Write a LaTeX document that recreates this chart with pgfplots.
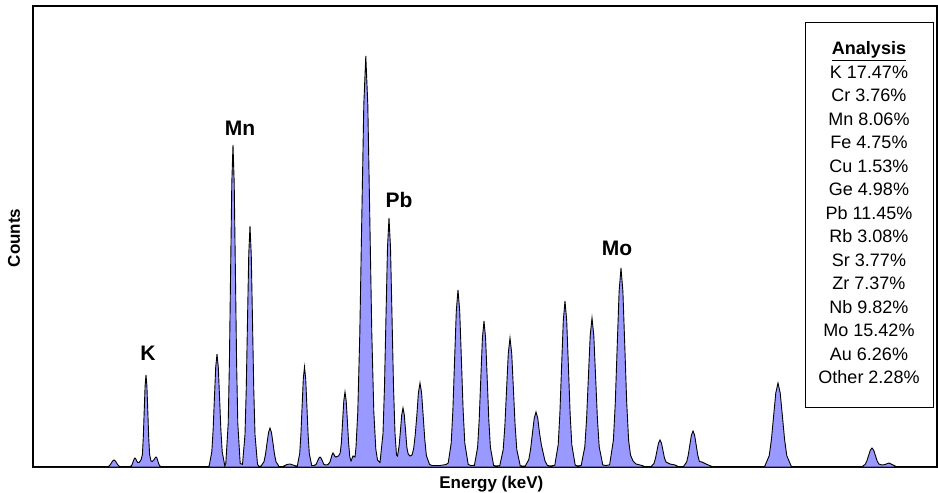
\documentclass[border=0pt]{standalone}
\usepackage{fontspec}
\setmainfont{Liberation Sans}
\usepackage{pgfplots}
\pgfplotsset{compat=1.18}
\usepackage{pgfplotstable}
\definecolor{peakfill}{RGB}{153,153,255}

% spectrum (x in channels, y in counts)
\pgfplotstableread{
x y
33 0
106 0
109 0.9
110.25 2.3
111.5 4.2
112.75 6.2
114 7
115.25 6.2
116.5 4.2
117.75 2.3
119 0.9
121.5 0
129 0
131.4 1.2
132.3 2.9
133.2 5.5
134.1 7.9
135 9
135.9 7.9
136.8 5.8
137.8 4.5
139 4.5
141 7
142.4 12.4
143.3 29.9
144.2 55.8
145.1 81.1
146 92
146.9 81.1
147.8 55.8
148.7 29.9
149.6 12.4
151 6
152.3 5.5
153.3 6.5
154.2 7.5
155.1 9
156 10
156.9 9
157.8 6.1
158.7 3.3
159.6 1.4
161.5 0
207 0
209.2 1.2
211.8 15.3
213.1 36.7
214.4 68.6
215.7 99.7
217 113
218.3 99.7
219.6 68.6
220.9 36.7
222.2 15.3
224.8 1.2
225.8 3.5
228.2 43.5
229.4 104.7
230.6 195.5
231.8 284.0
233 322
234.2 284.0
235.4 195.5
236.6 104.7
237.8 43.5
240.2 3.5
242.5 2.7
245 32.5
246.25 78.3
247.5 146.3
248.75 212.6
250 241
251.25 212.6
252.5 146.3
253.75 78.3
255 32.5
257.5 2.7
259 0.5
261 1
264 5.3
265.5 12.7
267 23.7
268.5 34.4
270 39
271.5 34.4
273 23.7
274.5 12.7
276 5.3
279 0.5
283 0.5
287 2.5
290 3
293 2
296 1
297.3 1.1
299.7 13.5
300.9 32.5
302.1 60.7
303.3 88.2
304.5 100
305.7 88.2
306.9 60.7
308.1 32.5
309.3 13.5
311.7 1.5
314 1.5
316 2.5
317 4.5
318 7
319 9
320 10
321 9
322 7
323 4.5
324 2.5
326 2
328 2.5
330 5
331 8.5
332 12
333 14
334 12.5
335 10.5
336 10
337 10.5
338.5 11
340.2 14
341.4 24.4
342.6 45.5
343.8 66.2
345 75
346.2 66.2
347.4 45.5
348.6 24.4
349.8 10.1
351 6
353 11
355 10
356 20
357.8 55.5
359.8 133.6
361.8 249.5
363.8 362.5
365.8 411
367.8 362.5
369.8 249.5
371.8 133.6
373.8 55.5
375.8 18
377.5 7
380 4.5
383 33.6
384.5 80.9
386 151.1
387.5 219.6
389 249
390.5 219.6
392 151.1
393.5 80.9
395 33.6
396.5 12
397.5 11
399.1 21
400.4 35.8
401.7 52
403 59
404.3 52
405.6 35.8
406.9 19.2
408.2 13
410 11
412 12
413.6 18
415.2 32
416.8 51
418.4 74.1
420 84
421.6 74.1
423.2 51
424.8 27.3
426.4 11.3
429.6 2.5
432 1.5
440 1.5
446 2.5
448.2 4
451.2 23.9
452.9 57.5
454.6 107.4
456.3 156.1
458 177
459.7 156.1
461.4 107.4
463.1 57.5
464.8 23.9
468.2 2.5
471 1.5
474.4 1.6
477.6 19.7
479.2 47.5
480.8 88.6
482.4 128.8
484 146
485.6 128.8
487.2 88.6
488.8 47.5
490.4 19.7
493.6 1.6
496 1
499.8 1.4
503.2 17.4
504.9 41.9
506.6 78.3
508.3 113.8
510 129
511.7 113.8
513.4 78.3
515.1 41.9
516.8 17.4
520.2 1.4
522 1
525.2 1
528.8 7.4
530.6 17.9
532.4 33.4
534.2 48.5
536 55
537.8 48.5
539.6 33.4
541.4 22
543.2 14
545 6
547.5 1.5
551 1
554.8 1.8
558.2 22.4
559.9 54
561.6 100.8
563.3 146.4
565 166
566.7 146.4
568.4 100.8
570.1 54
571.8 22.4
575.2 1.8
578 1
581.2 1.6
584.8 20.1
586.6 48.4
588.4 90.4
590.2 131.4
592 149
593.8 131.4
595.6 90.4
597.4 48.4
599.2 20.1
602.8 2
606 1.5
609.6 2.2
613.4 26.9
615.3 64.7
617.2 120.8
619.1 175.5
621 199
622.9 175.5
624.8 120.8
626.7 64.7
628.6 26.9
630.5 12
633 6
636 3
642 1.5
646 0
651 0.3
654 3.6
655.5 8.8
657 16.4
658.5 23.8
660 27
661.5 23.8
663 16.4
664.5 8.8
666 5
670 3
675 2
679 0
683.4 0.4
686.6 4.9
688.2 11.7
689.8 21.9
691.4 31.8
693 36
694.6 31.8
696.2 21.9
697.8 11.7
699.4 5.5
702 5
706 3
712 0.5
715 0
763 0
764.8 0.9
769.2 11.3
771.4 27.3
773.6 51
775.8 74.1
778 84
780.2 74.1
782.4 51
784.6 27.3
786.8 11.3
791.2 0.9
793 0
860 0
861.8 0.2
865.2 2.6
866.9 6.2
868.6 11.5
870.3 16.8
872 19
873.7 16.8
875.4 11.5
877.1 6.2
878.8 3
882 2
885 2.5
889 4
893 2
897 0
937 0
}\spectrum

\begin{document}
\begin{tikzpicture}
\begin{axis}[
    name=ax,
    scale only axis,
    width=904pt, height=461pt,
    xmin=33, xmax=937, ymin=0, ymax=461,
    xtick=\empty, ytick=\empty,
    axis line style={line width=1.2pt},
    xlabel={Energy (keV)},
    ylabel={Counts},
    label style={font=\fontsize{17}{20}\selectfont\bfseries},
    xlabel style={at={(axis description cs:0.507,-0.0477)}, anchor=base},
    ylabel style={at={(axis description cs:-0.0144,0.497)}, anchor=base},
]
\addplot[draw=black, line width=0.9pt, fill=peakfill] table[x=x, y=y] {\spectrum} \closedcycle;

\node[font=\fontsize{21}{25}\selectfont\bfseries] at (axis cs:148,114) {K};
\node[font=\fontsize{21}{25}\selectfont\bfseries] at (axis cs:240,339) {Mn};
\node[font=\fontsize{21}{25}\selectfont\bfseries] at (axis cs:399,267) {Pb};
\node[font=\fontsize{21}{25}\selectfont\bfseries] at (axis cs:617,219) {Mo};

\draw[line width=0.8pt, fill=white] (axis cs:805,60) rectangle (axis cs:933,445);
\node[align=center, font=\fontsize{18}{23.5}\selectfont] at (axis cs:869,254) {%
\textbf{\underline{Analysis}}\\
K 17.47\%\\
Cr 3.76\%\\
Mn 8.06\%\\
Fe 4.75\%\\
Cu 1.53\%\\
Ge 4.98\%\\
Pb 11.45\%\\
Rb 3.08\%\\
Sr 3.77\%\\
Zr 7.37\%\\
Nb 9.82\%\\
Mo 15.42\%\\
Au 6.26\%\\
Other 2.28\%};
\end{axis}
\pgfresetboundingbox
\path[use as bounding box] ([xshift=-33pt,yshift=-26pt]ax.south west) rectangle ([xshift=1pt,yshift=6pt]ax.north east);
\end{tikzpicture}
\end{document}
